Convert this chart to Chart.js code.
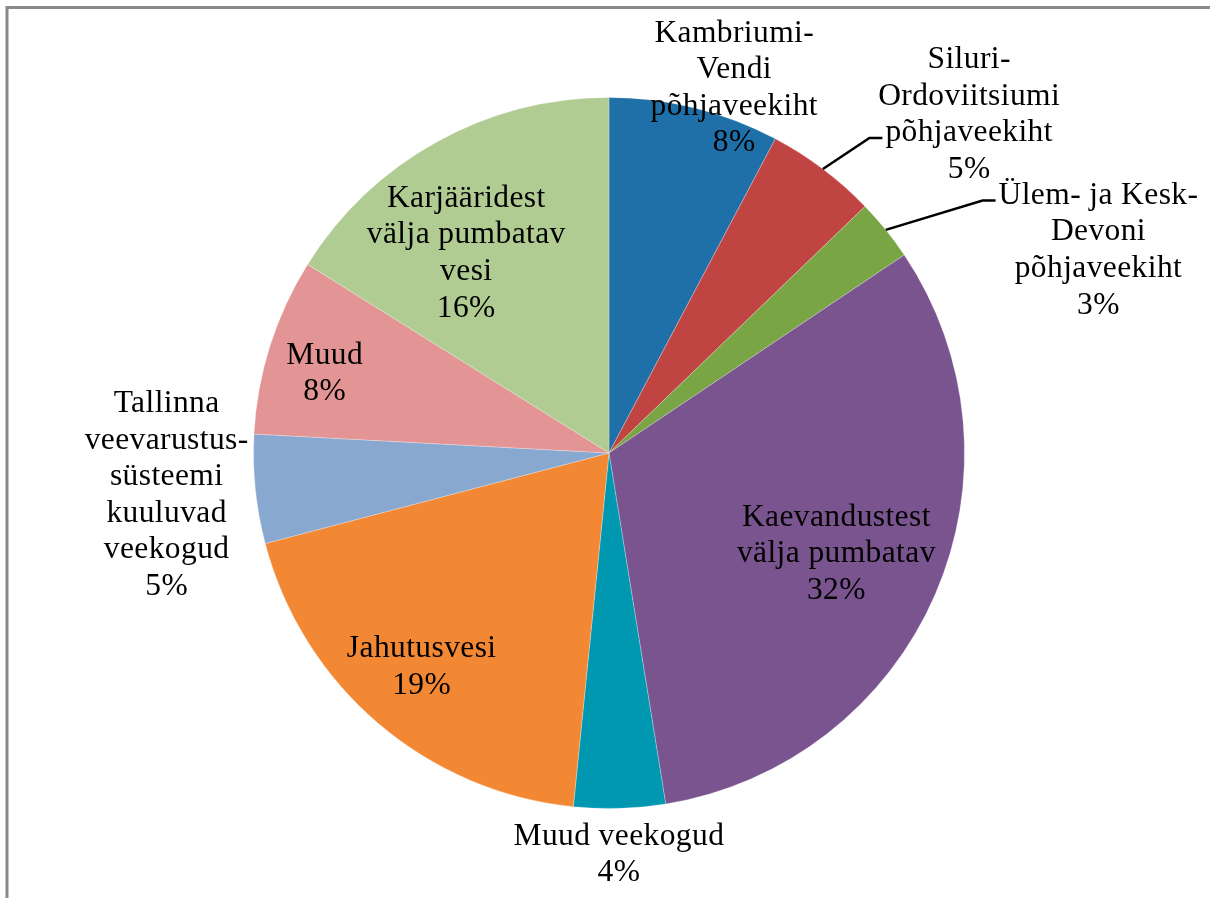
<!DOCTYPE html>
<html>
<head>
<meta charset="utf-8">
<script src="https://cdn.jsdelivr.net/npm/chart.js@4/dist/chart.umd.min.js"></script>
<style>
  html, body { margin: 0; padding: 0; background: #fff; }
  #wrap { width: 1210px; height: 898px; position: relative; }
</style>
</head>
<body>
<div id="wrap"><canvas id="chart" width="1210" height="898"></canvas></div>
<script>
// andmed (veevõtt allikate kaupa)
const categories = [
    'Kambriumi-Vendi põhjaveekiht',
    'Siluri-Ordoviitsiumi põhjaveekiht',
    'Ülem- ja Kesk-Devoni põhjaveekiht',
    'Kaevandustest välja pumbatav',
    'Muud veekogud',
    'Jahutusvesi',
    'Tallinna veevarustussüsteemi kuuluvad veekogud',
    'Muud',
    'Karjääridest välja pumbatav vesi'
];
const labelLines = [
    ['Kambriumi-', 'Vendi', 'põhjaveekiht'],
    ['Siluri-', 'Ordoviitsiumi', 'põhjaveekiht'],
    ['Ülem- ja Kesk-', 'Devoni', 'põhjaveekiht'],
    ['Kaevandustest', 'välja pumbatav'],
    ['Muud veekogud'],
    ['Jahutusvesi'],
    ['Tallinna', 'veevarustus-', 'süsteemi', 'kuuluvad', 'veekogud'],
    ['Muud'],
    ['Karjääridest', 'välja pumbatav', 'vesi']
];
const values = [7.75, 5.05, 2.8, 31.85, 4.15, 19.3, 4.95, 8.05, 16.1];
const colors = [
    'rgb(31, 112, 168)',
    'rgb(192, 69, 66)',
    'rgb(121, 165, 68)',
    'rgb(122, 84, 143)',
    'rgb(0, 152, 177)',
    'rgb(243, 136, 52)',
    'rgb(137, 168, 208)',
    'rgb(227, 148, 148)',
    'rgb(176, 204, 146)'
];

// sildi asukoht: raadiuse kordaja ja nurga nihe (kraadides)
const placement = [
    { r: 1.085, shift: 5.0 },
    { r: 1.39, shift: 9.8, leader: 2 },
    { r: 1.49, shift: 16.4, leader: 0 },
    { r: 0.70, shift: 0.5 },
    { r: 1.13, shift: 0.3 },
    { r: 0.80, shift: 0.7 },
    { r: 1.25, shift: 0.4 },
    { r: 0.83, shift: -2.0 },
    { r: 0.69, shift: -6.6 }
];

const FONT = '31.5px "Liberation Serif", "Times New Roman", serif';
const LINE_H = 36.6;

const framePlugin = {
    id: 'frame',
    beforeDraw(chart) {
        const ctx = chart.ctx;
        ctx.save();
        ctx.fillStyle = '#fff';
        ctx.fillRect(0, 0, chart.width, chart.height);
        ctx.strokeStyle = '#898989';
        ctx.lineWidth = 3;
        ctx.strokeRect(7, 7.5, chart.width + 40, chart.height + 40);
        ctx.restore();
    }
};

const labelPlugin = {
    id: 'sliceLabels',
    afterDatasetsDraw(chart) {
        const ctx = chart.ctx;
        const meta = chart.getDatasetMeta(0);
        const total = values.reduce((a, b) => a + b, 0);
        ctx.save();
        ctx.font = FONT;
        if ('letterSpacing' in ctx) ctx.letterSpacing = '0.4px';
        ctx.fillStyle = '#000';
        ctx.textAlign = 'center';
        ctx.textBaseline = 'middle';

        meta.data.forEach((arc, i) => {
            const p = arc.getProps(['x', 'y', 'startAngle', 'endAngle', 'outerRadius'], true);
            const mid = (p.startAngle + p.endAngle) / 2;
            const pl = placement[i];
            const ang = mid + pl.shift * Math.PI / 180;
            const cx = p.x + Math.cos(ang) * p.outerRadius * pl.r;
            const cy = p.y + Math.sin(ang) * p.outerRadius * pl.r;
            const lines = labelLines[i].concat([Math.round(values[i] / total * 100) + '%']);
            const top = cy - (lines.length - 1) * LINE_H / 2;
            lines.forEach((t, k) => ctx.fillText(t, cx, top + k * LINE_H));

            if (pl.leader !== undefined) {
                const ly = top + pl.leader * LINE_H + 5;
                const w = ctx.measureText(lines[pl.leader]).width;
                const ex = cx - w / 2 - 3;
                const sx = p.x + Math.cos(mid) * p.outerRadius;
                const sy = p.y + Math.sin(mid) * p.outerRadius;
                ctx.beginPath();
                ctx.strokeStyle = '#000';
                ctx.lineWidth = 2.5;
                ctx.moveTo(sx, sy);
                ctx.lineTo(ex - 13, ly);
                ctx.lineTo(ex, ly);
                ctx.stroke();
            }
        });
        ctx.restore();
    }
};

const ctx = document.getElementById('chart');
const chart = new Chart(ctx, {
    type: 'pie',
    data: {
        labels: categories,
        datasets: [{
            data: values,
            backgroundColor: colors,
            borderColor: 'rgba(255, 255, 255, 0.25)',
            borderWidth: 1
        }]
    },
    options: {
        responsive: false,
        animation: false,
        layout: {
            padding: { left: 253, right: 245, top: 97, bottom: 89 }
        },
        plugins: {
            legend: { display: false },
            tooltip: { enabled: false }
        }
    },
    plugins: [framePlugin, labelPlugin]
});
</script>
</body>
</html>
